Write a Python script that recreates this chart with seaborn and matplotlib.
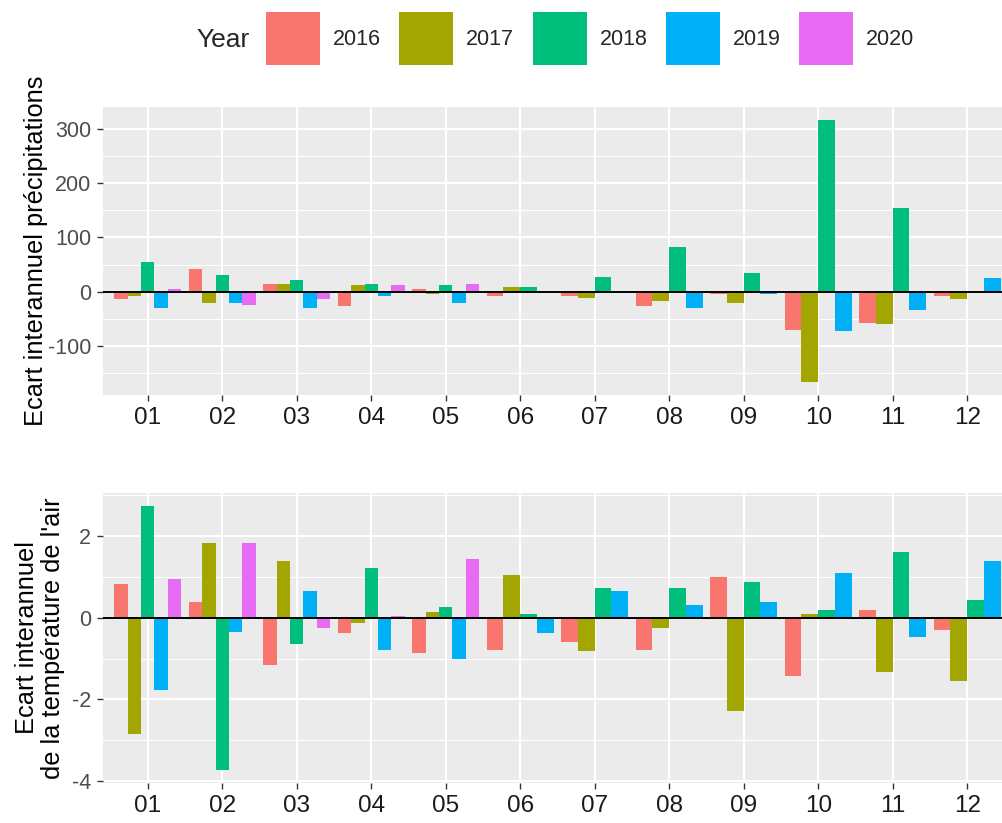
import numpy as np
import pandas as pd
import matplotlib
matplotlib.use("Agg")
import matplotlib.pyplot as plt
from matplotlib.patches import Patch
from matplotlib.ticker import MultipleLocator
import seaborn as sns

# ---------------- data ----------------
months = ["01", "02", "03", "04", "05", "06", "07", "08", "09", "10", "11", "12"]
years = ["2016", "2017", "2018", "2019", "2020"]
colors = ["#F8766D", "#A3A500", "#00BF7D", "#00B0F6", "#E76BF3"]

precip_2016 = [-14, 41, 15, -27, 5, -8, -8, -27, -4, -70, -57, -8]
precip_2017 = [-8, -20, 15, 12, -4, 9, -11, -17, -21, -166, -60, -14]
precip_2018 = [54, 31, 22, 15, 12, 9, 28, 83, 34, 316, 154, 0]
precip_2019 = [-30, -20, -30, -8, -21, 0, 0, -30, -4, -73, -34, 25]
precip_2020 = [5, -24, -14, 12, 15, None, None, None, None, None, None, None]

temp_2016 = [0.82, 0.39, -1.16, -0.38, -0.86, -0.78, -0.60, -0.78, 1.00, -1.42, 0.18, -0.29]
temp_2017 = [-2.86, 1.84, 1.40, -0.12, 0.14, 1.04, -0.82, -0.24, -2.29, 0.09, -1.33, -1.55]
temp_2018 = [2.74, -3.73, -0.64, 1.22, 0.27, 0.09, 0.73, 0.73, 0.87, 0.18, 1.62, 0.44]
temp_2019 = [-1.77, -0.34, 0.66, -0.78, -1.00, -0.38, 0.65, 0.31, 0.39, 1.09, -0.47, 1.40]
temp_2020 = [0.96, 1.84, -0.24, 0.05, 1.44, None, None, None, None, None, None, None]

precip = dict(zip(years, [precip_2016, precip_2017, precip_2018, precip_2019, precip_2020]))
temp = dict(zip(years, [temp_2016, temp_2017, temp_2018, temp_2019, temp_2020]))
palette = dict(zip(years, colors))


def long_frame(series):
    rows = []
    for y in years:
        for i, m in enumerate(months):
            v = series[y][i]
            if v is not None:
                rows.append({"month": i + 1, "Year": y, "value": v})
    return pd.DataFrame(rows)


# ---------------- style ----------------
sns.set_theme(style="darkgrid")
plt.rcParams["font.family"] = ["Liberation Sans", "DejaVu Sans"]
plt.rcParams["axes.unicode_minus"] = False

fig = plt.figure(figsize=(10.03, 8.23), dpi=100)
ax1 = fig.add_axes([103 / 1003, 1 - 395 / 823, 900 / 1003, 288 / 823])
ax2 = fig.add_axes([103 / 1003, 1 - 783 / 823, 900 / 1003, 290 / 823])


def draw(ax, series, ylim, major, minor, ylabel, label_x):
    df = long_frame(series)
    # ggplot-style dodge: only the years present in each month share the slot
    present = df.groupby("month")["Year"].apply(lambda s: tuple(sorted(s)))
    for combo in sorted(set(present.values)):
        ms = present[present == combo].index
        sub = df[df["month"].isin(ms)]
        sns.barplot(data=sub, x="month", y="value", hue="Year",
                    hue_order=list(combo), palette=palette, native_scale=True,
                    width=0.9, saturation=1, errorbar=None, linewidth=0,
                    legend=False, ax=ax)
    ax.axhline(0, color="black", lw=1.4, zorder=3)
    ax.set_facecolor("#EBEBEB")
    for s in ax.spines.values():
        s.set_visible(False)
    ax.set_axisbelow(True)
    ax.set_xlim(0.4, 12.48)
    ax.set_ylim(*ylim)
    ax.set_xticks(range(1, 13))
    ax.set_xticklabels(months)
    ax.yaxis.set_major_locator(MultipleLocator(major))
    ax.yaxis.set_minor_locator(MultipleLocator(minor))
    ax.grid(which="major", color="white", lw=1.5)
    ax.grid(which="minor", axis="y", color="white", lw=0.75)
    ax.grid(which="minor", axis="x", visible=False)
    ax.tick_params(axis="x", which="major", length=4.5, width=1.0, color="#333333",
                   labelsize=17.5, labelcolor="#1A1A1A", pad=4, bottom=True)
    ax.tick_params(axis="y", which="major", length=4.5, width=1.0, color="#333333",
                   labelsize=15.5, labelcolor="#4D4D4D", pad=4, left=True)
    ax.tick_params(which="minor", length=0)
    ax.set_xlabel("")
    ax.set_ylabel(ylabel, fontsize=18.3, color="black", linespacing=1.1)
    ax.yaxis.set_label_coords(label_x, 0.5)


draw(ax1, precip, (-190, 340), 100, 50,
     "Ecart interannuel précipitations", -0.061)
draw(ax2, temp, (-4.05, 3.06), 2, 1,
     "Ecart interannuel\nde la température de l'air", -0.0425)

# ---------------- legend ----------------
handles = [Patch(facecolor=palette[y], edgecolor="none") for y in years]
fig.legend(handles, years, loc="center left",
           bbox_to_anchor=(266 / 1003, 1 - 38.5 / 823), ncol=5, frameon=False,
           fontsize=15.5, handlelength=2.51, handleheight=3.415,
           handletextpad=0.6, columnspacing=0.85, borderpad=0, borderaxespad=0)
fig.text(196 / 1003, 1 - 40 / 823, "Year", fontsize=19, ha="left", va="center")

fig.savefig("out.png", dpi=100, facecolor="white")
